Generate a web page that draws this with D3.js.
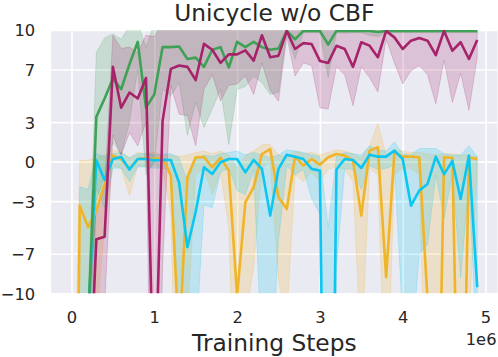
<!DOCTYPE html>
<html>
<head>
<meta charset="utf-8">
<script src="https://cdn.jsdelivr.net/npm/d3@7"></script>
<style>
  body { margin: 0; background: #fff; }
  svg { display: block; font-family: "DejaVu Sans", sans-serif; }
</style>
</head>
<body>
<svg width="498" height="357"></svg>
<script>
// Training steps (in 1e6)
const steps = [0, 0.1, 0.2, 0.3, 0.4, 0.5, 0.6, 0.7, 0.8, 0.9,
  1.0, 1.1, 1.2, 1.3, 1.4, 1.5, 1.6, 1.7, 1.8, 1.9,
  2.0, 2.1, 2.2, 2.3, 2.4, 2.5, 2.6, 2.7, 2.8, 2.9,
  3.0, 3.1, 3.2, 3.3, 3.4, 3.5, 3.6, 3.7, 3.8, 3.9,
  4.0, 4.1, 4.2, 4.3, 4.4, 4.5, 4.6, 4.7, 4.8, 4.9];

const xTicks = [0, 1, 2, 3, 4, 5];
const yTicks = [10, 7, 3, 0, -3, -7, -10];

// green series
const greenMean = [-30, -20, -12.5, 3.4, 4.8, 6.3, 5.5, 7.4, 9.1, 4.1,
  5.1, 8.7, 8.7, 8.75, 7.8, 7.9, 7.2, 8.5, 8.7, 7.15,
  9.1, 8.7, 9.1, 8.7, 8.5, 8.6, 9.93, 9.3, 9.93, 9.93,
  9.93, 8.9, 9.93, 9.93, 9.93, 9.93, 9.93, 9.85, 9.93, 9.93,
  9.93, 9.93, 9.93, 9.93, 9.93, 9.93, 9.93, 9.93, 9.93, 9.93];
const greenLow = [-40, -30, -14, -3, -1, 1.5, 0.5, 3, 7, -1,
  0, 5.5, 5, 6, 2, 4.5, 2.6, 4, 5.5, 1.3,
  5.5, 5.7, 6.5, 6, 5.1, 5.3, 9.8, 7.8, 9.8, 9.8,
  9.8, 6.4, 9.8, 9.75, 9.8, 9.8, 9.6, 9.5, 9.8, 9.8,
  9.8, 9.8, 9.8, 9.8, 9.8, 9.8, 9.8, 9.8, 9.8, 9.8];
const greenHigh = [-20, -15, -11, 8.3, 9.4, 9.7, 9.3, 10.3, 10.5, 8.7,
  10.5, 10.5, 10.5, 10.5, 10.5, 10.5, 10.5, 10.5, 10.5, 10.5,
  10.5, 10.5, 10.5, 10.5, 10.5, 10.5, 10.5, 10.5, 10.5, 10.5,
  10.5, 10.5, 10.5, 10.5, 10.5, 10.5, 10.5, 10.5, 10.5, 10.5,
  10.5, 10.5, 10.5, 10.5, 10.5, 10.5, 10.5, 10.5, 10.5, 10.5];

// magenta series
const magentaMean = [-40, -35, -20.5, -5.9, -5.7, 7.2, 4.1, 5.25, 4.8, 6.35,
  -20, 3.1, 7.05, 7.3, 7.2, 6.2, 8.95, 8.5, 7.5, 8.15,
  8.15, 8.45, 7.67, 9.6, 7.93, 8.05, 9.93, 8.56, 9.0, 8.94,
  7.65, 7.5, 8.8, 8.56, 7.2, 9.07, 8.81, 7.93, 9.93, 9.44,
  8.56, 9.19, 9.39, 9.19, 8.1, 9.93, 8.43, 9.07, 7.8, 9.24];
const magentaLow = [-60, -50, -40, -12, -11, 2, 0.5, 2.2, 1.2, 3,
  -40, -8, 5.8, 3.6, 3.5, 1.2, 5.5, 6.6, 4.6, 5.8,
  5.9, 6.5, 5.1, 7.5, 5.4, 4.6, 9.5, 6.5, 7.5, 7.3,
  4.1, 4.0, 7.2, 6.6, 4.25, 7.2, 6.4, 5.3, 9.3, 7.5,
  5.9, 6.9, 7.3, 6.6, 4.4, 7.7, 4.5, 6.7, 3.9, 7.9];
const magentaHigh = [-20, -20, -10.5, -3.5, -2, 9.6, 8.6, 8.7, 8.3, 9.6,
  9.5, 10.5, 10.5, 10.5, 10.5, 10.5, 10.5, 10.5, 10.5, 10.5,
  10.5, 10.5, 10.5, 10.5, 10.5, 10.5, 10.5, 10.5, 10.5, 10.5,
  10.5, 10.5, 10.5, 10.5, 10.5, 10.5, 10.5, 10.5, 10.5, 10.5,
  10.5, 10.5, 10.5, 10.5, 10.5, 10.5, 10.5, 10.5, 10.5, 10.5];

// yellow series
const yellowMean = [-60, -3.34, -4.98, -3.72, -1.69, 0.46, 0.2, -0.55, 0.2, 0.28,
  0.2, 0.33, -1.06, -14, -1.19, 0.33, 0.35, -0.43, 0.3, -0.68,
  -10.2, -3.08, -1.95, 0.58, 0.96, -2.7, -3.6, 0.38, -0.3, 0.2,
  -0.23, 0.33, 0.58, 0.46, 0.08, -4.1, 0.84, 1.09, -8.78, 0.71,
  0.38, 0.38, 0.33, -10.5, -32, 0.33, 0.3, -31, 0.3, 0.2];
const yellowLow = [-100, -20, -20, -12, -5, -0.3, -0.5, -2.6, -0.3, -0.4,
  -0.3, -0.5, -4, -30, -12, -1, -0.5, -2.5, -0.8, -5,
  -25, -12, -8, -0.5, 0, -9, -12, -1, -1.5, -0.8,
  -1.5, -0.6, -0.4, -0.6, -1.5, -15, -0.5, -1, -20, -1,
  -0.5, -0.5, -1, -25, -60, -12, -10, -60, -12, -0.3];
const yellowHigh = [-30, 0.1, 0.1, 0.3, 0.5, 0.9, 0.7, 0.3, 0.7, 0.6,
  0.7, 0.5, 0.5, 0.4, 0.5, 0.7, 0.8, 0.6, 0.8, 0.5,
  -0.5, 0.5, 0.8, 1.3, 1.3, 0.5, 0.3, 0.8, 0.6, 0.7,
  0.5, 0.7, 0.9, 0.8, 0.6, 0.3, 1.2, 2.9, 0.5, 0.9,
  0.8, 0.7, 0.7, 0.6, 0.5, 0.6, 0.6, 0.5, 0.5, 0.4];

// cyan series
const cyanMean = [-60, -30, -12, 0.1, -1.4, 0.2, 0.35, -0.6, 0.2, 0.2,
  0.1, 0.15, 0.12, -1.6, -6.5, -3.8, -0.43, -0.93, -0.05, 0.2,
  0.2, -0.81, 0.13, -0.55, -4.1, -0.55, 0.53, 0.38, 0.2, -0.55,
  -0.68, -50, -0.6, 0.2, 0.13, -0.48, 0.53, 0.38, 0.38, 0.84,
  0.2, -3.34, -2.2, -1.69, 0.38, -0.95, 0.05, -2.83, 0.46, -9.54];
const cyanLow = [-100, -40, -30, -2, -3.5, -0.5, -0.5, -1.5, -0.4, -0.4,
  -0.5, -0.5, -0.6, -12, -20, -14, -3.3, -3.5, -0.8, -0.5,
  -2.2, -2.5, -0.6, -15, -18, -6, -0.3, -1, -0.6, -2.8,
  -4, -80, -8, -0.5, -0.6, -2.1, -0.3, -0.6, -0.5, -0.3,
  -12, -15, -7, -6.3, -1, -4.3, -1, -8.8, -1.5, -15];
const cyanHigh = [-40, -1.9, -2.1, 0.6, 0.4, 0.6, 0.7, 0.3, 0.6, 0.6,
  0.5, 0.6, 0.6, 0.3, -1.5, 0.2, 0.5, 0.4, 0.6, 0.7,
  0.8, 0.5, 0.7, 0.5, 0.3, 0.5, 0.9, 0.8, 0.7, 0.5,
  0.4, -5, 0.4, 0.7, 0.6, 0.5, 1.2, 0.9, 0.8, 1.5,
  0.6, 0.5, 1.0, 1.0, 1.0, 0.6, 0.5, 0.5, 1.2, 0.4];

// draw order: yellow, cyan, green, magenta
const series = [
  { color: "#f0b429", mean: yellowMean, low: yellowLow, high: yellowHigh },
  { color: "#0bc6f0", mean: cyanMean, low: cyanLow, high: cyanHigh },
  { color: "#3fa156", mean: greenMean, low: greenLow, high: greenHigh },
  { color: "#a6226a", mean: magentaMean, low: magentaLow, high: magentaHigh },
];

// Setup SVG
const svg = d3.select("svg");

const plot = { left: 51.2, right: 497.5, top: 30, bottom: 293.3 };

const x = d3.scaleLinear().domain([-0.245, 5.145]).range([plot.left, plot.right]);
const y = d3.scaleLinear().domain([-10, 10]).range([plot.bottom, plot.top]);

svg
  .append("defs")
  .append("clipPath")
  .attr("id", "clip")
  .append("rect")
  .attr("x", plot.left)
  .attr("y", plot.top)
  .attr("width", plot.right - plot.left)
  .attr("height", plot.bottom - plot.top);

// background + grid
svg
  .append("rect")
  .attr("x", plot.left)
  .attr("y", plot.top)
  .attr("width", plot.right - plot.left)
  .attr("height", plot.bottom - plot.top)
  .attr("fill", "#eaeaf2");

const xAxis = svg
  .append("g")
  .attr("transform", `translate(0,${plot.bottom})`)
  .call(d3.axisBottom(x).tickValues(xTicks).tickSize(-(plot.bottom - plot.top)).tickPadding(18).tickFormat(d3.format("d")));

const yAxis = svg
  .append("g")
  .attr("transform", `translate(${plot.left},0)`)
  .call(
    d3.axisLeft(y).tickValues(yTicks).tickSize(-(plot.right - plot.left)).tickPadding(16)
      .tickFormat((d) => (d < 0 ? "\u2212" + Math.abs(d) : String(d)))
  );

[xAxis, yAxis].forEach(function (g) {
  g.select(".domain").remove();
  g.selectAll(".tick line").attr("stroke", "#fff").attr("stroke-width", 1.6);
  g.selectAll(".tick text")
    .attr("fill", "#262626")
    .style("font-size", "16.3px")
    .style("font-family", "DejaVu Sans");
});
yAxis.selectAll(".tick text").attr("dy", "0.36em");

// Bands and lines
const container = svg.append("g").attr("clip-path", "url(#clip)");

const area = d3
  .area()
  .x((d) => x(d.step))
  .y0((d) => y(d.low))
  .y1((d) => y(d.high));

const line = d3
  .line()
  .x((d) => x(d.step))
  .y((d) => y(d.mean));

series.forEach(function (s) {
  const rows = steps.map(function (step, i) {
    return { step: step, mean: s.mean[i], low: s.low[i], high: s.high[i] };
  });
  s.rows = rows;
  container
    .append("path")
    .datum(rows)
    .attr("d", area)
    .attr("fill", s.color)
    .attr("fill-opacity", 0.2)
    .attr("stroke", s.color)
    .attr("stroke-opacity", 0.2)
    .attr("stroke-width", 1);
});

series.forEach(function (s) {
  container
    .append("path")
    .datum(s.rows)
    .attr("d", line)
    .attr("fill", "none")
    .attr("stroke", s.color)
    .attr("stroke-width", 2.6)
    .attr("stroke-linejoin", "round");
});

// Texts
svg
  .append("text")
  .attr("x", (plot.left + plot.right) / 2)
  .attr("y", 20.5)
  .attr("text-anchor", "middle")
  .attr("fill", "#262626")
  .style("font-size", "23.3px")
  .text("Unicycle w/o CBF");

svg
  .append("text")
  .attr("x", (plot.left + plot.right) / 2)
  .attr("y", 351)
  .attr("text-anchor", "middle")
  .attr("fill", "#262626")
  .style("font-size", "23.3px")
  .text("Training Steps");

svg
  .append("text")
  .attr("x", plot.right - 1)
  .attr("y", 345)
  .attr("text-anchor", "end")
  .attr("fill", "#262626")
  .style("font-size", "16.3px")
  .text("1e6");
</script>
</body>
</html>
